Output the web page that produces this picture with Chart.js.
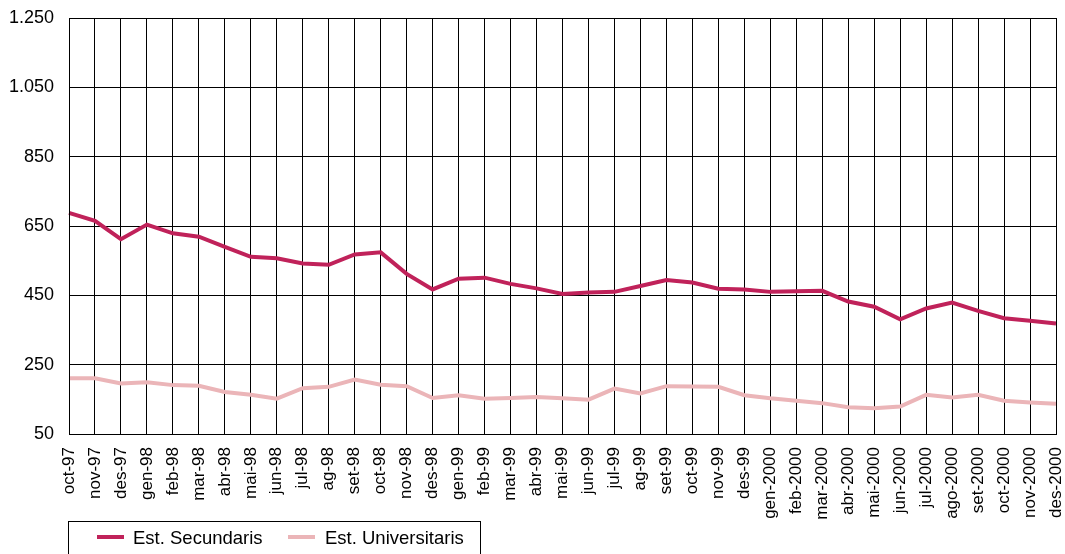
<!DOCTYPE html>
<html>
<head>
<meta charset="utf-8">
<script src="https://cdn.jsdelivr.net/npm/chart.js@4/dist/chart.umd.min.js"></script>
<style>
    html, body { margin: 0; padding: 0; background: #fff; }
    #wrap { position: relative; width: 1065px; height: 554px; }
    #legend {
        position: absolute; left: 68px; top: 521px; width: 413px; height: 40px;
        border: 1px solid #000; box-sizing: border-box;
        font-family: Arial, "Liberation Sans", sans-serif; font-size: 18.5px; color: #000;
    }
    .item { position: absolute; top: 6px; line-height: 20px; }
    .swatch { position: absolute; top: 13px; width: 27px; height: 4px; }
</style>
</head>
<body>
<div id="wrap">
    <canvas id="chart" width="1065" height="554"></canvas>
    <div id="legend">
        <span class="swatch" style="left:28px;background:#c0225a"></span>
        <span class="item" style="left:64px">Est. Secundaris</span>
        <span class="swatch" style="left:219px;background:#ebb5b8"></span>
        <span class="item" style="left:256px">Est. Universitaris</span>
    </div>
</div>
<script>
// Months (Catalan)
const months = [
    'oct-97', 'nov-97', 'des-97',
    'gen-98', 'feb-98', 'mar-98', 'abr-98', 'mai-98', 'jun-98', 'jul-98', 'ag-98', 'set-98', 'oct-98', 'nov-98', 'des-98',
    'gen-99', 'feb-99', 'mar-99', 'abr-99', 'mai-99', 'jun-99', 'jul-99', 'ag-99', 'set-99', 'oct-99', 'nov-99', 'des-99',
    'gen-2000', 'feb-2000', 'mar-2000', 'abr-2000', 'mai-2000', 'jun-2000', 'jul-2000', 'ago-2000', 'set-2000', 'oct-2000', 'nov-2000', 'des-2000'
];

const secundaris = [
    688, 665, 612,
    654, 629, 619, 590, 561, 557, 542, 538, 568, 574, 512, 467,
    498, 501, 483, 470, 454, 458, 460, 477, 494, 487, 469, 467,
    460, 462, 463, 432, 417, 381, 412, 429, 405, 384, 377, 369
];

const universitaris = [
    211, 211, 196,
    199, 191, 189, 171, 163, 152, 182, 186, 207, 192, 188, 154,
    162, 152, 154, 157, 153, 149, 181, 167, 188, 187, 186, 162,
    153, 146, 139, 127, 124, 129, 163, 155, 163, 146, 141, 137
];

const yTicks = [50, 250, 450, 650, 850, 1050, 1250];

const fontFamily = 'Arial, "Liberation Sans", sans-serif';

new Chart(document.getElementById('chart').getContext('2d'), {
    type: 'line',
    data: {
        labels: months,
        datasets: [{
            label: 'Est. Secundaris',
            data: secundaris,
            borderColor: '#c0225a',
            borderWidth: 4,
            pointRadius: 0,
            tension: 0
        }, {
            label: 'Est. Universitaris',
            data: universitaris,
            borderColor: '#ebb5b8',
            borderWidth: 4,
            pointRadius: 0,
            tension: 0
        }]
    },
    options: {
        responsive: false,
        animation: false,
        layout: { padding: { top: 18, right: 9, left: 0, bottom: 0 } },
        plugins: {
            legend: { display: false },
            tooltip: { enabled: false }
        },
        scales: {
            x: {
                offset: false,
                grid: { color: '#000', lineWidth: 1, drawTicks: false },
                border: { color: '#000', width: 1 },
                ticks: {
                    color: '#000', font: { family: fontFamily, size: 17 }, padding: 13,
                    maxRotation: 90, minRotation: 90, autoSkip: false
                },
                afterFit: s => { s.height = 120; s.paddingLeft = 0; s.paddingRight = 0; }
            },
            y: {
                min: 50,
                max: 1250,
                afterBuildTicks: s => { s.ticks = yTicks.map(v => ({ value: v })); },
                grid: { color: '#000', lineWidth: 1, drawTicks: false },
                border: { color: '#000', width: 1 },
                ticks: {
                    color: '#000', font: { family: fontFamily, size: 18 }, padding: 15,
                    callback: v => v.toString().replace(/\B(?=(\d{3})+(?!\d))/g, '.')
                },
                afterFit: s => { s.width = 69; s.paddingTop = 0; s.paddingBottom = 0; }
            }
        }
    },
    plugins: [{
        id: 'frame',
        afterDraw(chart) {
            const { ctx, chartArea: a } = chart;
            ctx.save();
            ctx.strokeStyle = '#000';
            ctx.lineWidth = 1;
            ctx.strokeRect(Math.round(a.left) + 0.5, Math.round(a.top) + 0.5,
                Math.round(a.right - a.left), Math.round(a.bottom - a.top));
            ctx.restore();
        }
    }]
});
</script>
</body>
</html>
